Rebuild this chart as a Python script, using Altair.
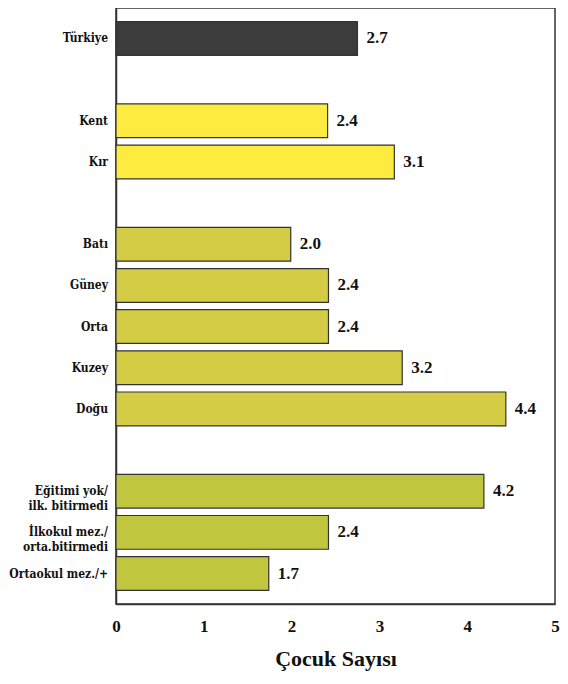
import altair as alt
import pandas as pd

categories = ["Türkiye", " ", "Kent", "Kır", "  ", "Batı", "Güney", "Orta", "Kuzey", "Doğu", "   ",
              "Eğitimi yok/|ilk. bitirmedi", "İlkokul mez./|orta.bitirmedi", "Ortaokul mez./+"]
values = [2.75, None, 2.41, 3.17, None, 1.99, 2.42, 2.42, 3.26, 4.44, None, 4.19, 2.42, 1.74]
labels = ["2.7", "", "2.4", "3.1", "", "2.0", "2.4", "2.4", "3.2", "4.4", "", "4.2", "2.4", "1.7"]
groups = ["Türkiye", "", "Yerleşim", "Yerleşim", "", "Bölge", "Bölge", "Bölge", "Bölge", "Bölge", "",
          "Eğitim", "Eğitim", "Eğitim"]

group_names = ["Türkiye", "Yerleşim", "Bölge", "Eğitim"]
group_colors = ["#3c3c3c", "#fdeb3f", "#d4cc45", "#c0c63e"]

df = pd.DataFrame({"cat": categories, "val": values, "lab": labels, "grp": groups})
bars_df = df[df["val"].notna()]

FONT = "Liberation Serif"
CFONT = "DejaVu Serif Condensed"

y = alt.Y("cat:N", sort=categories,
          scale=alt.Scale(domain=categories, paddingInner=0.18, paddingOuter=0.33),
          axis=alt.Axis(title=None, ticks=False, labels=False,
                        domainColor="#333", domainWidth=1.5))
x = alt.X("val:Q", scale=alt.Scale(domain=[0, 5], nice=False),
          axis=alt.Axis(title="Çocuk Sayısı", values=[0, 1, 2, 3, 4, 5], format="d",
                        ticks=False, grid=False,
                        labelPadding=14, labelFontSize=17, labelFont=FONT, labelFontWeight="bold",
                        labelColor="#111", titleFont=FONT, titleFontSize=22, titleFontWeight="bold",
                        titleColor="#111", titlePadding=14, domainColor="#333", domainWidth=1.5,
                        labelFlush=False))

bars = alt.Chart(bars_df).mark_bar(stroke="#333", strokeWidth=1.2).encode(
    y=y, x=x,
    color=alt.Color("grp:N", scale=alt.Scale(domain=group_names, range=group_colors), legend=None),
)
values_text = alt.Chart(bars_df).mark_text(align="left", dx=9, font=FONT, fontSize=17,
                                            fontWeight="bold", color="#111").encode(
    y=alt.Y("cat:N", sort=categories), x="val:Q", text="lab:N")

cat_text = alt.Chart(bars_df).mark_text(align="right", baseline="middle", dx=-8, font=CFONT,
                                         fontSize=12, fontWeight="bold", color="#111",
                                         lineBreak="|", lineHeight=15).encode(
    y=alt.Y("cat:N", sort=categories), x=alt.datum(0), text="cat:N")

chart = (bars + values_text + cat_text).properties(
    width=439, height=596, autosize=alt.AutoSizeParams(type="none"),
    padding={"left": 108, "top": 0, "right": 5, "bottom": 72},
).configure_view(stroke="#333", strokeWidth=1.5)

chart.save("out.html", embed_options={"renderer": "svg", "actions": False})
